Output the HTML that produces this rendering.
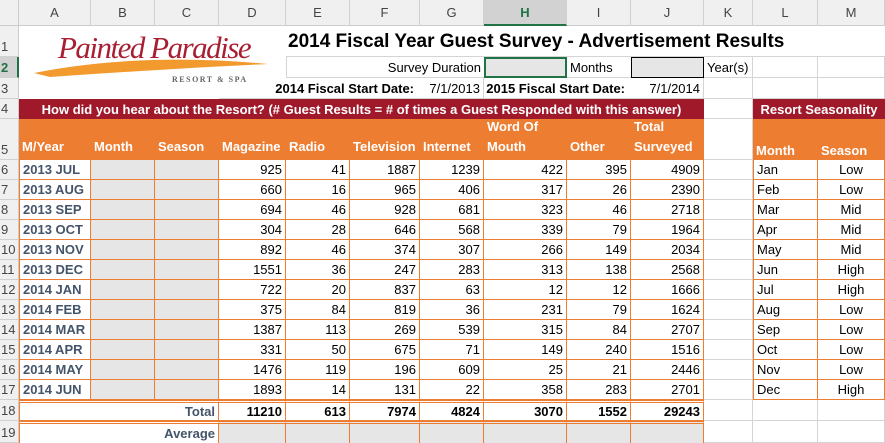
<!DOCTYPE html>
<html><head><meta charset="utf-8">
<style>
body{margin:0;width:885px;height:443px;overflow:hidden;background:#fff;font-family:"Liberation Sans",sans-serif;}
#sheet{position:absolute;left:0;top:0;width:885px;height:443px;}
.c{position:absolute;box-sizing:border-box;font-size:13px;line-height:1;display:flex;align-items:center;padding:0 3px;white-space:nowrap;overflow:visible;color:#000;}
.r{justify-content:flex-end;}
.ctr{justify-content:center;}
.b{font-weight:bold;}
</style></head><body>
<div id="sheet"></div>
<script>
const months = ["2013 JUL","2013 AUG","2013 SEP","2013 OCT","2013 NOV","2013 DEC","2014 JAN","2014 FEB","2014 MAR","2014 APR","2014 MAY","2014 JUN"];
const magazine = [925,660,694,304,892,1551,722,375,1387,331,1476,1893];
const radio = [41,16,46,28,46,36,20,84,113,50,119,14];
const television = [1887,965,928,646,374,247,837,819,269,675,196,131];
const internet = [1239,406,681,568,307,283,63,36,539,71,609,22];
const wordOfMouth = [422,317,323,339,266,313,12,231,315,149,25,358];
const other = [395,26,46,79,149,138,12,79,84,240,21,283];
const totalSurveyed = [4909,2390,2718,1964,2034,2568,1666,1624,2707,1516,2446,2701];
const totals = [11210,613,7974,4824,3070,1552,29243];
const seasonMonths = ["Jan","Feb","Mar","Apr","May","Jun","Jul","Aug","Sep","Oct","Nov","Dec"];
const seasons = ["Low","Low","Mid","Mid","Mid","High","High","Low","Low","Low","Low","High"];
const colLetters = ["A","B","C","D","E","F","G","H","I","J","K","L","M"];

const X=[0,19,91,155,219,286,350,420,484,567,631,704,753,818,885];
const Y=[0,26,57,78,99,119,160];
for(let i=1;i<=12;i++)Y.push(160+20*i);
Y.push(421,443);
const S=document.getElementById('sheet');
const OR='#ED7D31',GR='#D4D4D4',RED='#A0192B',BG='#44546A';
function cell(c1,c2,r1,r2,txt,cls,st){
  const d=document.createElement('div');
  d.className='c '+(cls||'');
  d.style.left=X[c1]+'px';d.style.width=(X[c2+1]-X[c1])+'px';
  d.style.top=Y[r1]+'px';d.style.height=(Y[r2+1]-Y[r1])+'px';
  if(st)Object.assign(d.style,st);
  if(txt!==undefined&&txt!==null)d.textContent=txt;
  S.appendChild(d);return d;
}
// gridlines
for(let c=1;c<=13;c++)for(let r=1;r<=19;r++){
  const g=cell(c,c,r,r,null,'',{borderRight:'1px solid '+GR,borderBottom:'1px solid '+GR});
  
  
}
// column headers
const ch0=cell(0,0,0,0,null,'',{background:'#F0F0F0',borderRight:'1px solid #ccc',borderBottom:'1px solid #ccc'});


for(let c=1;c<=13;c++){
  const sel=c===8;
  const h=cell(c,c,0,0,colLetters[c-1],'ctr',{background:sel?'#D2D2D2':'#F0F0F0',borderRight:'1px solid #D0D0D0',borderBottom:sel?'2px solid #217346':'1px solid #ccc',color:sel?'#217346':'#444',fontWeight:sel?'bold':'normal',fontSize:'13px'});
  
  
}
for(let r=1;r<=19;r++){
  const sel=r===2;
  const h=cell(0,0,r,r,String(r),'',{background:sel?'#D2D2D2':'#F0F0F0',borderRight:sel?'2px solid #217346':'1px solid #ccc',borderBottom:'1px solid #D0D0D0',color:sel?'#217346':'#444',fontWeight:sel?'bold':'normal',paddingLeft:'1px',alignItems:'flex-end',paddingBottom:'3px'});
  
  
}
// logo area background (A-D rows 1-3)
const lb=cell(1,4,1,3,null,'',{background:'#fff'});


let e;
// title
const t=cell(5,13,1,1,'2014 Fiscal Year Guest Survey - Advertisement Results','b',{background:'#fff',fontSize:'19px',paddingLeft:'2px',borderBottom:'1px solid '+GR});


e=cell(5,7,2,2,'Survey Duration','r',{background:'#fff',borderBottom:'1px solid '+GR,borderLeft:'1px solid '+GR});

e=cell(8,8,2,2,'','',{background:'#E7E6E6',border:'2px solid #217346'});

e=cell(9,9,2,2,'Months','',{background:'#fff',borderBottom:'1px solid '+GR});

e=cell(10,10,2,2,'','',{background:'#E7E6E6',border:'1px solid #000'});

e=cell(11,11,2,2,'Year(s)','',{background:'#fff',borderRight:'1px solid '+GR,borderBottom:'1px solid '+GR});

e=cell(4,6,3,3,'2014 Fiscal Start Date:','r b',{background:'#fff',borderBottom:'1px solid '+GR,paddingRight:'6px'});

e=cell(7,7,3,3,'7/1/2013','r',{background:'#fff',borderRight:'1px solid '+GR,borderBottom:'1px solid '+GR});

e=cell(8,9,3,3,'2015 Fiscal Start Date:','r b',{background:'#fff',borderBottom:'1px solid '+GR,paddingRight:'6px'});

e=cell(10,10,3,3,'7/1/2014','r',{background:'#fff',borderRight:'1px solid '+GR,borderBottom:'1px solid '+GR});

// logo on top
const logo=document.createElement('div');


logo.style.cssText='position:absolute;left:30px;top:30px;width:240px;height:56px;z-index:5;';
logo.innerHTML='<svg width="240" height="56" style="position:absolute;left:0;top:0"><path d="M4 43 Q110 22 238 34 Q150 38 20 47 Z" fill="#F29A2E"/></svg>'+
'<span style="position:absolute;left:28px;top:0px;font-family:\'Liberation Serif\',serif;font-style:italic;font-size:31px;color:#A81E32;letter-spacing:-1.5px">Painted Paradise</span>'+
'<span style="position:absolute;left:142px;top:45px;font-family:\'Liberation Serif\',serif;font-size:8px;color:#666;letter-spacing:1.5px;font-weight:bold">RESORT &amp; SPA</span>';
S.appendChild(logo);
// row 4 banners
e=cell(1,10,4,4,'How did you hear about the Resort? (# Guest Results = # of times a Guest Responded with this answer)','ctr b',{background:RED,color:'#fff'});

e=cell(12,13,4,4,'Resort Seasonality','ctr b',{background:RED,color:'#fff'});

// row 5 headers
const heads=['M/Year','Month','Season','Magazine','Radio','Television','Internet','Word Of<br>Mouth','Other','Total<br>Surveyed'];
for(let i=0;i<10;i++){
  e=cell(i+1,i+1,5,5,null,'b',{background:OR,color:'#fff',alignItems:'flex-end',paddingBottom:'3px',lineHeight:'20px'});
  e.innerHTML=heads[i];
  
}
e=cell(12,12,5,5,'Month','b',{background:OR,color:'#fff',alignItems:'flex-end',paddingBottom:'3px'});

e=cell(13,13,5,5,'Season','b',{background:OR,color:'#fff',alignItems:'flex-end',paddingBottom:'3px'});

// data rows
const series=[magazine,radio,television,internet,wordOfMouth,other,totalSurveyed];
const ob={borderRight:'1px solid '+OR,borderBottom:'1px solid '+OR,background:'#fff'};
for(let i=0;i<months.length;i++){
  const r=6+i;
  e=cell(1,1,r,r,months[i],'b',Object.assign({},ob,{color:BG,borderLeft:'1px solid '+OR}));
  
  e=cell(2,2,r,r,'','',Object.assign({},ob,{background:'#E7E6E6'}));
  
  e=cell(3,3,r,r,'','',Object.assign({},ob,{background:'#E7E6E6'}));
  
  for(let s=0;s<7;s++){
    e=cell(4+s,4+s,r,r,String(series[s][i]),'r',ob);
    
  }
  e=cell(12,12,r,r,seasonMonths[i],'',Object.assign({},ob,{borderLeft:'1px solid '+OR}));
  
  e=cell(13,13,r,r,seasons[i],'ctr',ob);
  
}
// totals
const tb={background:'#fff',borderTop:'3px double '+OR,borderBottom:'1px solid '+OR,borderRight:'1px solid '+OR};
e=cell(1,3,18,18,'Total','r b',Object.assign({},tb,{color:BG,borderLeft:'1px solid '+OR}));

for(let s=0;s<7;s++){
  e=cell(4+s,4+s,18,18,String(totals[s]),'r b',tb);
  
}
const ab={background:'#fff',borderTop:'3px double '+OR,borderRight:'1px solid '+OR};
e=cell(1,3,19,19,'Average','r b',Object.assign({},ab,{color:BG,borderLeft:'1px solid '+OR}));

for(let s=0;s<7;s++){
  e=cell(4+s,4+s,19,19,'','',Object.assign({},ab,{background:'#E7E6E6'}));
  
}
</script>
</body></html>
